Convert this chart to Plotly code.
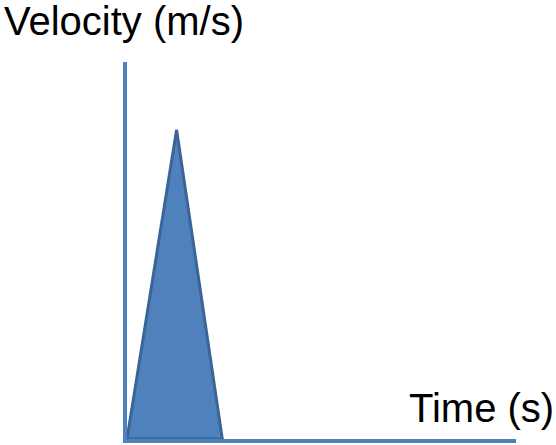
import plotly.graph_objects as go

# Data
time_s = [0, 0.51, 0.98, 0]
velocity = [0, 0.82, 0, 0]
x_title = "Time (s)"
y_title = "Velocity (m/s)"

W, H = 556, 445
L, R, T, B = 127, 40, 62, 6
pw, ph = W - L - R, H - T - B

def px_x(p):
    return (p - L) / pw

def px_y(p):
    return (H - B - p) / ph

fig = go.Figure()
fig.add_trace(go.Scatter(
    x=time_s, y=velocity, mode="lines", fill="toself",
    fillcolor="#4F81BD", line=dict(color="#3B6596", width=3),
    hoverinfo="skip", showlegend=False,
))

fig.update_layout(
    width=W, height=H,
    margin=dict(l=L, r=R, t=T, b=B, pad=0),
    paper_bgcolor="white", plot_bgcolor="white",
    xaxis=dict(range=[0, 4], showgrid=False, zeroline=False, showticklabels=False,
               ticks="", showline=True, linecolor="#4F81BD", linewidth=4),
    yaxis=dict(range=[0, 1], showgrid=False, zeroline=False, showticklabels=False,
               ticks="", showline=True, linecolor="#4F81BD", linewidth=4),
    font=dict(family="Liberation Sans, Arial, sans-serif", color="black"),
    annotations=[
        dict(text=y_title, xref="paper", yref="paper", x=px_x(3), y=px_y(-2),
             xanchor="left", yanchor="top", showarrow=False, borderpad=0,
             font=dict(size=40, color="black")),
        dict(text=x_title, xref="paper", yref="paper", x=px_x(555), y=px_y(385),
             xanchor="right", yanchor="top", showarrow=False, borderpad=0,
             font=dict(size=40, color="black")),
    ],
)

fig.write_html("out.html", config={"displayModeBar": False},
               post_script="document.body.style.margin='0';document.body.style.overflow='hidden';")
